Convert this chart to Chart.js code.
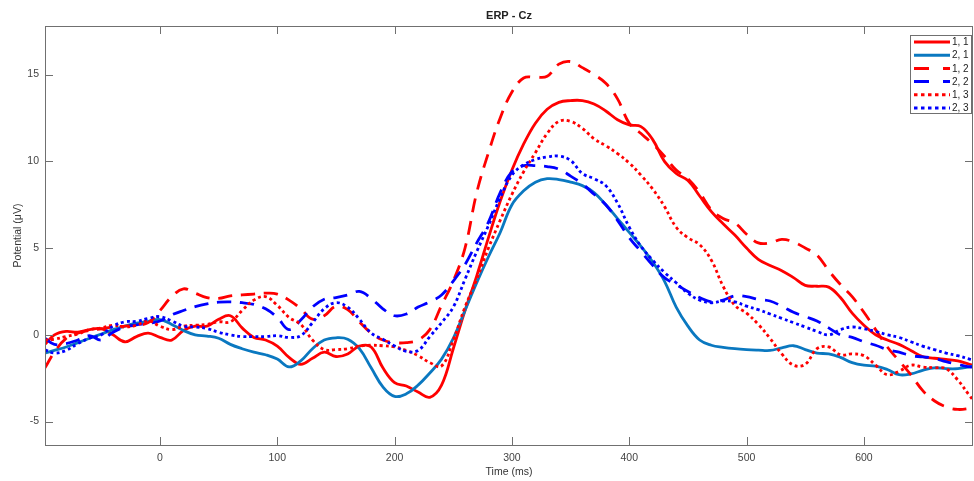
<!DOCTYPE html>
<html lang="en">
<head>
    <meta charset="UTF-8">
    <title>ERP - Cz</title>
    <script src="https://cdn.jsdelivr.net/npm/chart.js"></script>
    <style>
        html, body { margin: 0; padding: 0; background: #fff; }
        #wrap { width: 974px; height: 481px; }
    </style>
</head>
<body>
    <div id="wrap"><canvas id="erpChart" width="974" height="481"></canvas></div>

    <script>
        // time axis (ms) and one array per condition
        const timeMs = [-98, -90, -80, -70, -60, -50, -40, -30, -20, -10,
            0, 10, 20, 30, 40, 50, 60, 70, 80, 90,
            100, 110, 120, 130, 140, 150, 160, 170, 180, 190,
            200, 210, 220, 230, 240, 250, 260, 270, 280, 290,
            300, 310, 320, 330, 340, 350, 360, 370, 380, 390,
            400, 410, 420, 430, 440, 450, 460, 470, 480, 490,
            500, 510, 520, 530, 540, 550, 560, 570, 580, 590,
            600, 610, 620, 630, 640, 650, 660, 670, 680, 690, 693];

        const cond11 = [-0.55, 0.0, 0.2, 0.15, 0.3, 0.35, 0.0, -0.4, -0.1, 0.1,
            -0.15, -0.3, 0.25, 0.5, 0.5, 0.9, 1.1, 0.4, -0.15, -0.3,
            -0.65, -1.3, -1.7, -1.35, -1.0, -1.25, -1.1, -0.65, -0.7, -1.9,
            -2.75, -2.95, -3.3, -3.6, -2.9, -0.8, 1.4, 3.4, 5.6, 7.7,
            9.5, 11.0, 12.2, 13.0, 13.4, 13.5, 13.5, 13.3, 12.9, 12.4,
            12.1, 12.0, 11.25, 10.0, 9.3, 8.9, 8.0, 7.1, 6.4, 5.75,
            5.0, 4.35, 4.0, 3.7, 3.3, 2.85, 2.8, 2.75, 2.15, 1.25,
            0.55, 0.0, -0.3, -0.55, -0.9, -1.25, -1.35, -1.42, -1.5, -1.7, -1.75];

        const cond21 = [-1.05, -0.9, -0.7, -0.45, -0.2, 0.05, 0.3, 0.5, 0.67, 0.78,
            0.88, 0.6, 0.25, 0.0, -0.07, -0.2, -0.55, -0.8, -1.0, -1.15,
            -1.4, -1.85, -1.5, -0.8, -0.3, -0.17, -0.25, -0.8, -1.9, -3.0,
            -3.55, -3.4, -2.9, -2.2, -1.4, -0.2, 1.4, 3.0, 4.5, 5.9,
            7.5, 8.3, 8.8, 9.0, 8.95, 8.8, 8.6, 8.2, 7.5, 6.7,
            5.9, 5.1, 4.2, 3.1, 1.6, 0.5, -0.3, -0.6, -0.72, -0.8,
            -0.85, -0.88, -0.9, -0.75, -0.63, -0.85, -1.05, -1.1, -1.3, -1.6,
            -1.75, -1.8, -2.0, -2.3, -2.25, -2.05, -1.9, -1.95, -1.95, -1.85, -1.8];

        const cond12 = [-1.9, -1.0, -0.2, 0.1, 0.25, 0.35, 0.45, 0.5, 0.55, 0.7,
            1.4, 2.2, 2.65, 2.4, 2.15, 2.1, 2.25, 2.3, 2.35, 2.4,
            2.35, 2.0, 1.5, 0.9, 1.1, 1.65, 1.45, 0.75, 0.1, -0.3,
            -0.45, -0.45, -0.3, 0.3, 1.7, 3.1, 5.0, 8.2, 10.5, 12.5,
            14.0, 14.8, 14.85, 14.9, 15.6, 15.75, 15.4, 15.0, 14.5, 13.6,
            12.2, 11.6, 11.0, 10.3, 9.5, 9.0, 8.2, 7.2, 6.7, 6.45,
            5.8, 5.3, 5.3, 5.5, 5.35, 5.0, 4.6, 3.7, 2.9, 2.2,
            1.3, 0.3, -0.7, -1.5, -2.3, -3.2, -3.8, -4.15, -4.3, -4.25, -4.2];

        const cond22 = [-0.2, -0.55, -0.5, -0.3, -0.05, -0.3, 0.15, 0.45, 0.58, 0.65,
            0.8, 1.15, 1.4, 1.62, 1.78, 1.88, 1.9, 1.85, 1.75, 1.5,
            1.0, 0.3, 0.85, 1.6, 2.05, 2.15, 2.3, 2.5, 2.1, 1.5,
            1.1, 1.2, 1.6, 1.9, 2.3, 3.1, 4.05, 5.3, 6.5, 8.2,
            9.4, 9.75, 9.75, 9.7, 9.55, 9.15, 8.7, 8.1, 7.5, 6.6,
            5.6, 4.8, 4.0, 3.3, 2.9, 2.5, 2.15, 1.9, 2.0, 2.25,
            2.2, 2.05, 1.95, 1.65, 1.3, 1.05, 0.8, 0.4, 0.0, -0.15,
            -0.4, -0.6, -0.85, -1.0, -1.2, -1.27, -1.35, -1.55, -1.7, -1.85, -1.85];

        const cond13 = [-0.3, -0.25, -0.1, 0.05, 0.3, 0.4, 0.55, 0.45, 0.55, 0.8,
            0.5, 0.3, 0.5, 0.55, 0.6, 0.75, 0.75, 1.4, 2.0, 2.2,
            1.7, 1.0, 0.6, -0.3, -0.85, -0.85, -0.8, -0.65, -0.6, -0.63,
            -0.7, -0.9, -1.2, -1.6, -1.8, -0.3, 1.6, 3.2, 5.0, 6.6,
            8.1, 9.4, 10.5, 11.6, 12.3, 12.3, 11.9, 11.3, 10.9, 10.45,
            9.9, 9.2, 8.4, 7.4, 6.2, 5.6, 5.2, 4.3, 2.8, 1.7,
            1.25, 0.6, -0.2, -1.1, -1.75, -1.7, -0.8, -0.7, -1.15, -1.1,
            -1.2, -1.75, -2.3, -2.1, -1.75, -1.85, -1.9, -1.95, -2.6, -3.5, -3.75];

        const cond23 = [-0.87, -1.05, -0.9, -0.5, -0.2, 0.0, 0.5, 0.75, 0.78, 0.95,
            1.05, 0.8, 0.5, 0.45, 0.36, 0.15, 0.0, -0.1, -0.1, -0.1,
            -0.05, -0.15, -0.05, 0.7, 1.5, 1.85, 1.6, 0.9, 0.1, -0.25,
            -0.65, -0.95, -0.9, -0.1, 0.7, 1.6, 3.2, 4.8, 6.3, 7.9,
            9.2, 9.8, 10.1, 10.25, 10.3, 10.05, 9.3, 9.0, 8.6, 7.6,
            6.2, 5.1, 4.3, 3.6, 3.0, 2.4, 2.0, 1.85, 1.95, 1.9,
            1.65, 1.45, 1.2, 0.95, 0.7, 0.45, 0.2, 0.0, 0.3, 0.45,
            0.35, 0.2, 0.0, -0.15, -0.4, -0.65, -0.85, -1.05, -1.2, -1.4, -1.45];

        const xTickValues = [0, 100, 200, 300, 400, 500, 600];
        const yTickValues = [-5, 0, 5, 10, 15];

        const seriesLabels = ['1, 1', '2, 1', '1, 2', '2, 2', '1, 3', '2, 3'];
        const seriesValues = [cond11, cond21, cond12, cond22, cond13, cond23];
        const seriesColors = ['#ff0000', '#0a78c0', '#ff0000', '#0000ff', '#ff0000', '#0000ff'];
        const seriesDash = [[], [], [14, 9], [14, 9], [3, 3], [3, 3]];
        const legendDash = [[], [], [15, 14], [15, 14], [3.5, 3.5], [3.5, 3.5]];

        const FONT = "'Liberation Sans', Arial, sans-serif";

        // box, inward ticks, title and legend like a matlab axes
        const matlabAxes = {
            id: 'matlabAxes',
            afterDraw(chart) {
                const ctx = chart.ctx;
                const a = chart.chartArea;
                const xs = chart.scales.x;
                const ys = chart.scales.y;
                ctx.save();
                ctx.strokeStyle = '#707070';
                ctx.lineWidth = 1;
                ctx.strokeRect(a.left + 0.5, a.top + 0.5, a.right - a.left - 1, a.bottom - a.top);
                ctx.beginPath();
                xs.ticks.forEach(t => {
                    const px = Math.round(xs.getPixelForValue(t.value)) + 0.5;
                    ctx.moveTo(px, a.bottom); ctx.lineTo(px, a.bottom - 8);
                    ctx.moveTo(px, a.top); ctx.lineTo(px, a.top + 8);
                });
                ys.ticks.forEach(t => {
                    const py = Math.round(ys.getPixelForValue(t.value)) + 0.5;
                    ctx.moveTo(a.left, py); ctx.lineTo(a.left + 8, py);
                    ctx.moveTo(a.right, py); ctx.lineTo(a.right - 8, py);
                });
                ctx.stroke();

                ctx.fillStyle = '#222';
                ctx.font = 'bold 11px ' + FONT;
                ctx.textAlign = 'center';
                ctx.textBaseline = 'middle';
                ctx.fillText('ERP - Cz', (a.left + a.right) / 2, 16);

                // legend
                const bx = 910, by = 35, bw = 61, bh = 78;
                ctx.fillStyle = '#fff';
                ctx.fillRect(bx, by, bw, bh);
                ctx.strokeStyle = '#707070';
                ctx.strokeRect(bx + 0.5, by + 0.5, bw, bh);
                ctx.font = '10px ' + FONT;
                ctx.textAlign = 'left';
                chart.data.datasets.forEach((ds, i) => {
                    const ly = by + 7 + i * 13.2;
                    ctx.beginPath();
                    ctx.setLineDash(legendDash[i]);
                    ctx.strokeStyle = ds.borderColor;
                    ctx.lineWidth = 3;
                    ctx.moveTo(bx + 4, ly);
                    ctx.lineTo(bx + 40, ly);
                    ctx.stroke();
                    ctx.setLineDash([]);
                    ctx.fillStyle = '#222';
                    ctx.fillText(ds.label, bx + 42, ly + 0.5);
                });
                ctx.restore();
            }
        };

        const datasets = seriesLabels.map((label, i) => ({
            label: label,
            data: timeMs.map((t, j) => ({ x: t, y: seriesValues[i][j] })),
            borderColor: seriesColors[i],
            backgroundColor: seriesColors[i],
            borderWidth: 2.8,
            borderDash: seriesDash[i],
            pointRadius: 0,
            tension: 0.4,
            fill: false,
            order: seriesLabels.length - i
        }));

        new Chart(document.getElementById('erpChart').getContext('2d'), {
            type: 'line',
            data: { datasets: datasets },
            plugins: [matlabAxes],
            options: {
                responsive: false,
                animation: false,
                devicePixelRatio: 1,
                layout: { padding: { top: 26, right: 1, left: 0, bottom: 0 } },
                plugins: {
                    legend: { display: false },
                    title: { display: false },
                    tooltip: { enabled: false }
                },
                scales: {
                    x: {
                        type: 'linear',
                        min: -98,
                        max: 693,
                        afterFit: s => { s.height = 36; s.paddingRight = 0; s.paddingLeft = 0; },
                        afterBuildTicks: s => { s.ticks = xTickValues.map(v => ({ value: v })); },
                        grid: { display: false, drawTicks: false },
                        border: { display: false },
                        ticks: {
                            padding: 7,
                            color: '#444',
                            font: { family: FONT, size: 10.5 },
                            maxRotation: 0,
                            autoSkip: false
                        },
                        title: {
                            display: true,
                            text: 'Time (ms)',
                            color: '#333',
                            font: { family: FONT, size: 10.5 },
                            padding: { top: 0, bottom: 3 }
                        }
                    },
                    y: {
                        type: 'linear',
                        min: -6.35,
                        max: 17.8,
                        afterFit: s => { s.width = 45; },
                        afterBuildTicks: s => { s.ticks = yTickValues.map(v => ({ value: v })); },
                        grid: { display: false, drawTicks: false },
                        border: { display: false },
                        ticks: {
                            padding: 6,
                            color: '#444',
                            font: { family: FONT, size: 10.5 },
                            autoSkip: false
                        },
                        title: {
                            display: true,
                            text: 'Potential (μV)',
                            color: '#333',
                            font: { family: FONT, size: 10.5 },
                            padding: { top: 11.5, bottom: 0 }
                        }
                    }
                }
            }
        });
    </script>
</body>
</html>
